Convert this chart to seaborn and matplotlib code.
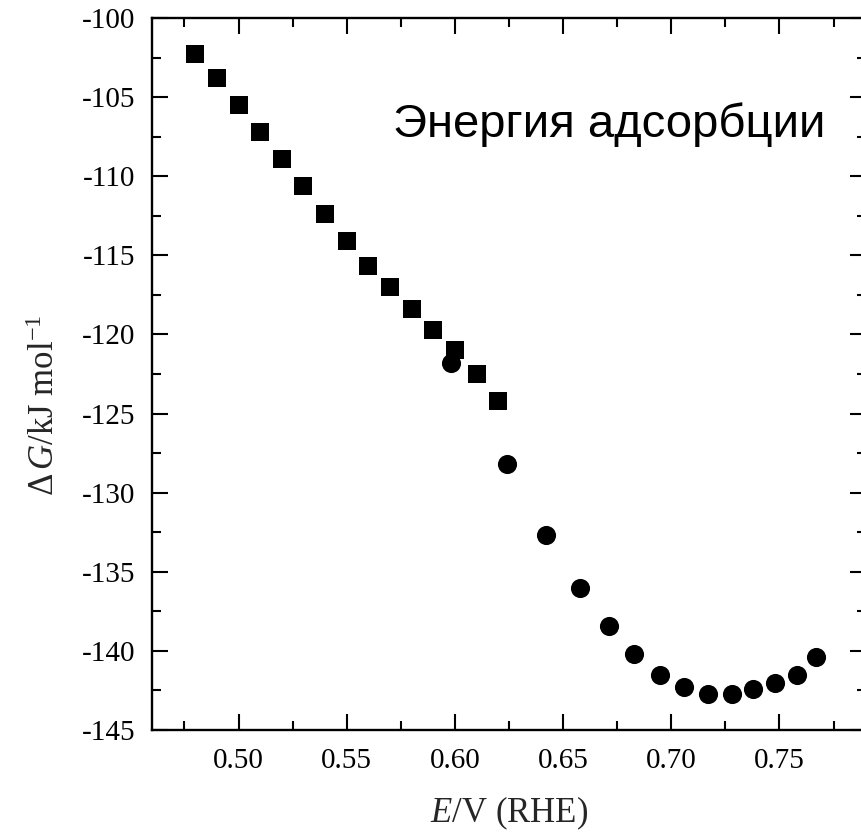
import numpy as np
import pandas as pd
import matplotlib
matplotlib.use("Agg")
import matplotlib.pyplot as plt
from matplotlib.ticker import MultipleLocator
import seaborn as sns

# ---- data ----
square_E = [0.48, 0.49, 0.50, 0.51, 0.52, 0.53, 0.54, 0.55, 0.56, 0.57,
            0.58, 0.59, 0.60, 0.61, 0.62]
square_G = [-102.3, -103.8, -105.5, -107.2, -108.9, -110.6, -112.4, -114.1,
            -115.7, -117.0, -118.4, -119.7, -121.0, -122.5, -124.2]

circle_E = [0.598, 0.624, 0.642, 0.658, 0.671, 0.683, 0.695, 0.706, 0.717,
            0.728, 0.738, 0.748, 0.758, 0.767]
circle_G = [-121.8, -128.2, -132.7, -136.0, -138.4, -140.2, -141.5, -142.3,
            -142.7, -142.7, -142.4, -142.0, -141.5, -140.4]

x_ticks = [0.50, 0.55, 0.60, 0.65, 0.70, 0.75]
y_ticks = [-145, -140, -135, -130, -125, -120, -115, -110, -105, -100]

annotation = "Энергия адсорбции"
x_label = r"$E$/V (RHE)"
y_label = r"$\mathrm{\Delta}\,G$/kJ mol$^{\mathrm{-1}}$"

# ---- style ----
sns.set_style("ticks")
plt.rcParams["font.family"] = ["Liberation Serif", "DejaVu Serif"]
plt.rcParams["mathtext.fontset"] = "custom"
plt.rcParams["mathtext.rm"] = "Liberation Serif"
plt.rcParams["mathtext.it"] = "Liberation Serif:italic"
plt.rcParams["axes.unicode_minus"] = False

fig = plt.figure(figsize=(8.61, 8.39), dpi=100)
ax = fig.add_axes([152 / 861, 109 / 839, 714 / 861, 712 / 839])

df_sq = pd.DataFrame({"E": square_E, "G": square_G})
df_ci = pd.DataFrame({"E": circle_E, "G": circle_G})

sns.scatterplot(data=df_sq, x="E", y="G", marker="s", s=150, color="black",
                linewidth=0, ax=ax, zorder=3)
sns.scatterplot(data=df_ci, x="E", y="G", marker="o", s=190, color="black",
                linewidth=0, ax=ax, zorder=3)

ax.set_xlim(0.46, 0.79)
ax.set_ylim(-145, -100)
ax.set_xticks(x_ticks)
ax.set_xticklabels([f"{v:.2f}" for v in x_ticks])
ax.set_yticks(y_ticks)
ax.set_yticklabels([f"{v:d}" for v in y_ticks])
ax.xaxis.set_minor_locator(MultipleLocator(0.025))
ax.yaxis.set_minor_locator(MultipleLocator(2.5))

for sp in ax.spines.values():
    sp.set_visible(True)
    sp.set_linewidth(1.7)
    sp.set_color("black")

ax.tick_params(which="both", direction="in", top=True, right=True,
               colors="black", width=1.5)
ax.tick_params(which="major", length=11.5)
ax.tick_params(which="minor", length=6.5)
ax.tick_params(axis="y", which="major", labelsize=21, pad=12)
ax.tick_params(axis="x", which="major", labelsize=21, pad=13)

ax.set_xlabel(x_label, fontsize=25, labelpad=15)
ax.set_ylabel(y_label, fontsize=25)
ax.yaxis.set_label_coords(-0.126, 0.456)

ax.text(0.5716, -107.52, annotation, fontsize=34, ha="left", va="baseline",
        family=["Liberation Sans", "DejaVu Sans"], color="black")

fig.savefig("out.png", dpi=100)
